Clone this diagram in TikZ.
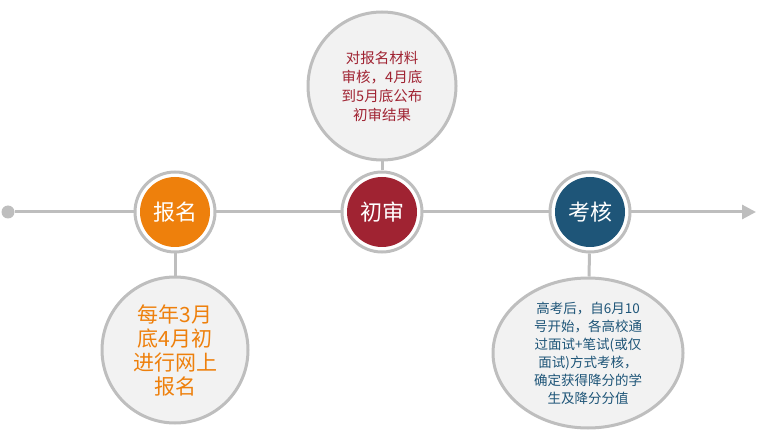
\documentclass[tikz,border=0pt]{standalone}
\usepackage{fontspec}
\setmainfont{Liberation Sans}
\newfontfamily\cjk{Noto Sans CJK SC}
\usetikzlibrary{arrows.meta,shapes.geometric}
\definecolor{lg}{RGB}{190,190,190}
\definecolor{bgc}{RGB}{242,242,242}
\definecolor{org}{RGB}{238,128,12}
\definecolor{rd}{RGB}{160,35,50}
\definecolor{bl}{RGB}{30,85,120}
\begin{document}
\begin{tikzpicture}[x=1pt,y=-1pt,
 ring/.style={circle,draw=lg,line width=3pt,fill=white,minimum size=80pt,inner sep=0pt},
 disk/.style={circle,fill=#1,minimum size=70pt,inner sep=0pt,text=white,font=\cjk\fontsize{22}{22}\selectfont},
 info/.style={draw=lg,line width=3pt,fill=bgc,align=center,inner sep=0pt},
 conn/.style={draw=lg,line width=3pt}]
\useasboundingbox (0,0) rectangle (757,430);
\node[circle,fill=lg,minimum size=13pt,inner sep=0pt] (dot) at (8,212) {};
\coordinate (end) at (756,212);
\draw[conn,-{Triangle[length=14pt,width=14pt]}] (dot) -- (end);
\node[ring] (r1) at (175,212) {};
\node[ring] (r2) at (382,212) {};
\node[ring] (r3) at (590,212) {};
\node[disk=org] (a) at (175,212) {报名};
\node[disk=rd] (b) at (382,212) {初审};
\node[disk=bl] (c) at (590,212) {考核};
\node[info,circle,minimum size=148pt,text=rd,font=\cjk\fontsize{14.5}{19}\selectfont] (tb) at (382,86) {对报名材料\\审核，4月底\\到5月底公布\\初审结果};
\node[info,circle,minimum size=146pt,text=org,font=\cjk\fontsize{21}{24}\selectfont] (lb) at (175,350) {每年3月\\底4月初\\进行网上\\报名};
\node[info,ellipse,minimum width=190pt,minimum height=150pt,text=bl,font=\cjk\fontsize{13.5}{18}\selectfont] (rb) at (588,353) {高考后，自6月10\\号开始，各高校通\\过面试+笔试(或仅\\面试)方式考核，\\确定获得降分的学\\生及降分分值};
\draw[conn] (r1) -- (lb);
\draw[conn] (r2) -- (tb);
\draw[conn] (r3) -- (rb);
\end{tikzpicture}
\end{document}
